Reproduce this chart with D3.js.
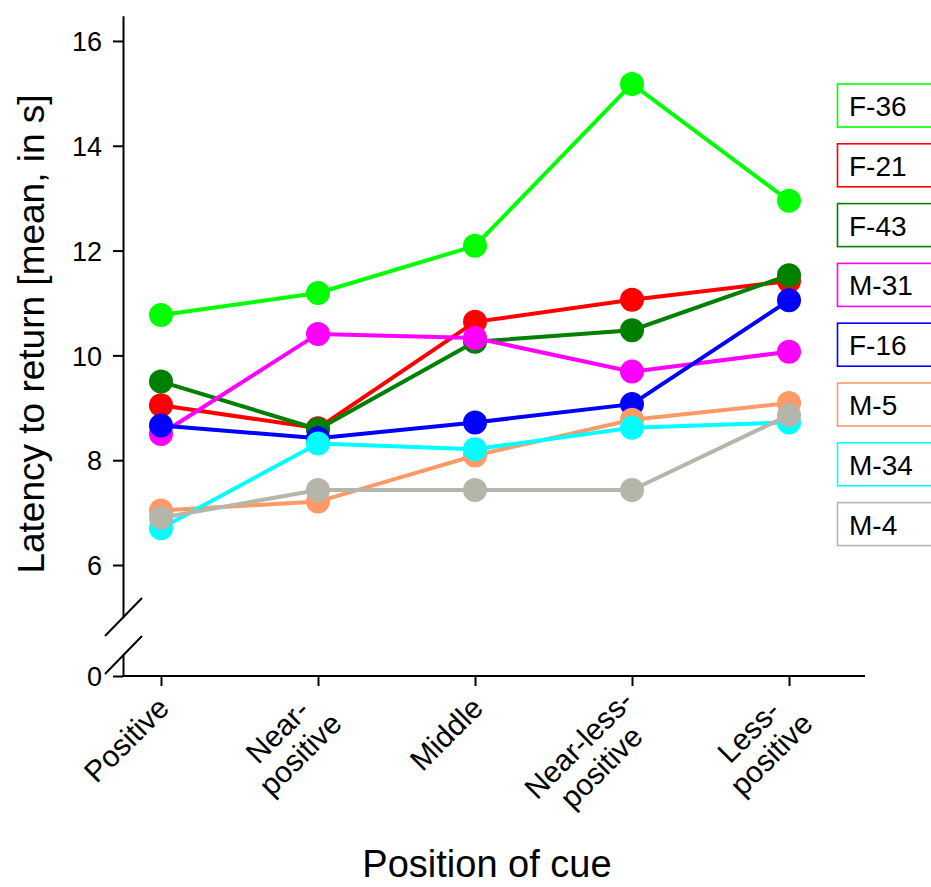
<!DOCTYPE html>
<html>
<head>
<meta charset="utf-8">
<script src="https://cdn.jsdelivr.net/npm/d3@7"></script>
<style>
  html, body { margin: 0; padding: 0; background: #fff; }
  svg { display: block; font-family: "Liberation Sans", Arial, sans-serif; }
</style>
</head>
<body>
<svg id="chart" width="931" height="887"></svg>
<script>
// ---- data ----
const categories = [["Positive"], ["Near-", "positive"], ["Middle"], ["Near-less-", "positive"], ["Less-", "positive"]];
const seriesNames = ["F-36", "F-21", "F-43", "M-31", "F-16", "M-5", "M-34", "M-4"];
const seriesColors = ["#00ff00", "#ff0000", "#008000", "#ff00ff", "#0000ff", "#ff9966", "#00ffff", "#b5b5aa"];
const valuesF36 = [10.77, 11.19, 12.09, 15.18, 12.95];
const valuesF21 = [9.05, 8.61, 10.64, 11.06, 11.42];
const valuesF43 = [9.50, 8.59, 10.26, 10.48, 11.53];
const valuesM31 = [8.50, 10.41, 10.33, 9.69, 10.07];
const valuesF16 = [8.66, 8.42, 8.72, 9.07, 11.05];
const valuesM5  = [7.04, 7.21, 8.09, 8.77, 9.09];
const valuesM34 = [6.70, 8.32, 8.21, 8.62, 8.72];
const valuesM4  = [6.90, 7.43, 7.43, 7.43, 8.86];
const yTicks = [6, 8, 10, 12, 14, 16];
const yLowTicks = [0];
const xTitle = "Position of cue";
const yTitle = "Latency to return [mean, in s]";

const allValues = [valuesF36, valuesF21, valuesF43, valuesM31, valuesF16, valuesM5, valuesM34, valuesM4];
const series = seriesNames.map((n, i) => ({ name: n, color: seriesColors[i], values: allValues[i] }));

// ---- layout ----
const svg = d3.select("#chart");
const axisX0 = 123, axisX1 = 865, axisY = 676;

const x = d3.scaleLinear().domain([-0.242, 4.484]).range([axisX0, axisX1]);
const y = d3.scaleLinear().domain([5.0, 16.48]).range([617.4, 15.8]);
const yLow = d3.scaleLinear().domain([0, 0.4]).range([axisY, 655]);

const FONT = "Liberation Sans, Arial, sans-serif";

// upper y axis
const gy = svg.append("g").attr("transform", `translate(${axisX0},0)`)
  .call(d3.axisLeft(y).tickValues(yTicks).tickSize(10).tickSizeOuter(0).tickPadding(11).tickFormat(d3.format("d")));
// lower y axis segment
const gyl = svg.append("g").attr("transform", `translate(${axisX0},0)`)
  .call(d3.axisLeft(yLow).tickValues(yLowTicks).tickSize(10).tickSizeOuter(0).tickPadding(11).tickFormat(d3.format("d")));
// x axis
const gx = svg.append("g").attr("transform", `translate(0,${axisY})`)
  .call(d3.axisBottom(x).tickValues(d3.range(categories.length)).tickSize(10).tickSizeOuter(0).tickFormat(""));

[gy, gyl, gx].forEach(g => {
  g.selectAll("path, line").attr("stroke", "#000").attr("stroke-width", 2);
  g.selectAll("text").attr("fill", "#000").style("font-family", FONT).style("font-size", "27px").attr("dy", "0.36em");
});
gx.select(".domain").attr("d", `M${axisX0 - 1},0H${axisX1}`);

// axis break slashes
const brk = svg.append("g").attr("stroke", "#000").attr("stroke-width", 2);
brk.append("line").attr("x1", axisX0 - 18).attr("y1", 636).attr("x2", axisX0 + 19).attr("y2", 598);
brk.append("line").attr("x1", axisX0 - 18).attr("y1", 674).attr("x2", axisX0 + 19).attr("y2", 636);

// x category labels (rotated)
const labFont = 30, lineGap = 32, uEnd = -17;
categories.forEach((lines, i) => {
  const g = svg.append("g").attr("transform", `translate(${x(i)},${axisY}) rotate(-45)`);
  const t = g.append("text").style("font-family", FONT).style("font-size", labFont + "px").attr("fill", "#000");
  const tmp = lines.map(l => { const s = t.append("tspan").text(l); const w = s.node().getComputedTextLength(); s.remove(); return w; });
  const W = d3.max(tmp);
  const v0 = lines.length === 1 ? 31 : 21;
  lines.forEach((l, k) => {
    g.append("text").attr("x", uEnd - W / 2).attr("y", v0 + k * lineGap)
      .attr("text-anchor", "middle").style("font-family", FONT).style("font-size", labFont + "px")
      .attr("fill", "#000").text(l);
  });
  t.remove();
});

// series lines and markers
const line = d3.line().x((d, i) => x(i)).y(d => y(d));
series.forEach(s => {
  const g = svg.append("g");
  g.append("path").datum(s.values).attr("d", line).attr("fill", "none")
    .attr("stroke", s.color).attr("stroke-width", 4);
  g.selectAll("circle").data(s.values).join("circle")
    .attr("cx", (d, i) => x(i)).attr("cy", d => y(d)).attr("r", 12).attr("fill", s.color);
});

// legend
const leg = svg.append("g");
series.forEach((s, i) => {
  const top = 84 + i * 59.8;
  leg.append("rect").attr("x", 837.5).attr("y", top).attr("width", 130).attr("height", 43)
    .attr("fill", "#fff").attr("stroke", s.color).attr("stroke-width", 1.6);
  leg.append("text").attr("x", 849).attr("y", top + 32).style("font-family", FONT).style("font-size", "28px")
    .attr("fill", "#000").text(s.name);
});

// axis titles
svg.append("text").attr("x", 487).attr("y", 877).attr("text-anchor", "middle")
  .style("font-family", FONT).style("font-size", "38px").attr("fill", "#000").text(xTitle);
svg.append("text").attr("transform", "translate(44,334) rotate(-90)").attr("text-anchor", "middle")
  .style("font-family", FONT).style("font-size", "37px").attr("fill", "#000").text(yTitle);
</script>
</body>
</html>
